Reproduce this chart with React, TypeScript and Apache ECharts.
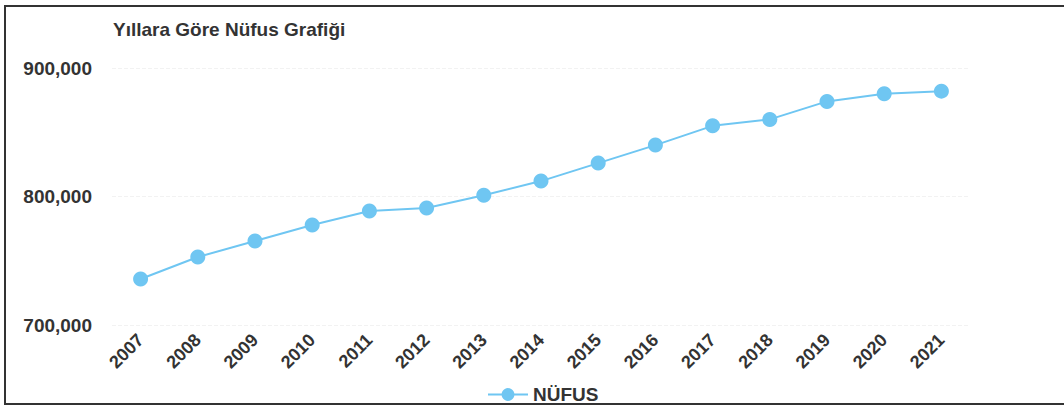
import React, { useEffect, useRef } from "react";
import * as echarts from "echarts";

const years = ["2007","2008","2009","2010","2011","2012","2013","2014","2015","2016","2017","2018","2019","2020","2021"];
const population = [735800, 752900, 765400, 777800, 788700, 791000, 801000, 812000, 826000, 840000, 855000, 860000, 874000, 880000, 882000];
const seriesName = "NÜFUS";
const titleText = "Yıllara Göre Nüfus Grafiği";

export default function App() {
  const ref = useRef<HTMLDivElement>(null);
  useEffect(() => {
    document.body.style.margin = "0";
    const chart = echarts.init(ref.current!, null, { renderer: "svg" });
    chart.setOption({
      animation: false,
      backgroundColor: "#ffffff",
      title: {
        text: titleText,
        left: 108,
        top: 15,
        textStyle: { fontFamily: "Liberation Sans", fontSize: 19, fontWeight: "bold", color: "#333" },
      },
      graphic: [
        {
          type: "rect",
          shape: { x: 5, y: 6, width: 1080, height: 398 },
          style: { fill: "none", stroke: "#333", lineWidth: 2 },
          silent: true,
        },
      ],
      legend: {
        data: [seriesName],
        bottom: 1,
        left: 482,
        itemWidth: 40,
        itemHeight: 16,
        itemGap: 8,
        textStyle: { fontFamily: "Liberation Sans", fontSize: 19, fontWeight: "bold", color: "#333" },
      },
      grid: { left: 112, right: 94, top: 68, bottom: 85 },
      xAxis: {
        type: "category",
        data: years,
        boundaryGap: true,
        axisLine: { show: false },
        axisTick: { show: false },
        axisLabel: {
          rotate: 45,
          margin: 12,
          fontFamily: "Liberation Sans",
          fontSize: 18,
          fontWeight: "bold",
          color: "#333",
        },
      },
      yAxis: {
        type: "value",
        min: 700000,
        max: 900000,
        interval: 100000,
        axisLine: { show: false },
        axisTick: { show: false },
        splitLine: { lineStyle: { color: "#f2f2f2", type: "dashed" } },
        axisLabel: {
          margin: 20,
          fontFamily: "Liberation Sans",
          fontSize: 19,
          fontWeight: "bold",
          color: "#333",
          formatter: (v: number) => v.toLocaleString("en-US"),
        },
      },
      series: [
        {
          name: seriesName,
          type: "line",
          data: population,
          symbol: "circle",
          symbolSize: 15,
          itemStyle: { color: "#6fc6f2" },
          lineStyle: { color: "#6fc6f2", width: 2 },
        },
      ],
    });
    return () => chart.dispose();
  }, []);
  return <div ref={ref} style={{ width: 1064, height: 410 }} />;
}
